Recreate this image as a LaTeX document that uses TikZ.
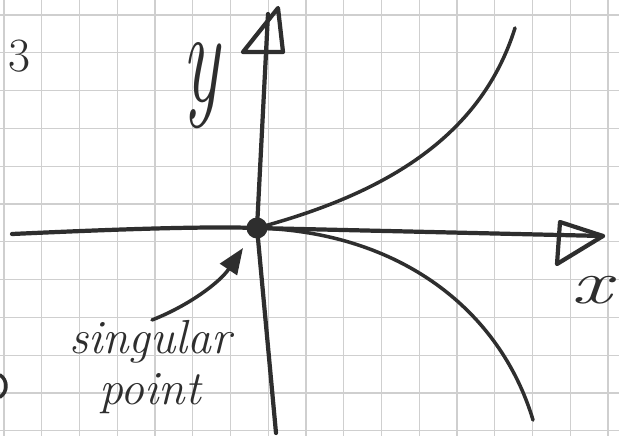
\documentclass[tikz,border=0pt]{standalone}
\usetikzlibrary{arrows.meta}
\definecolor{ink}{HTML}{2E2E2E}
\definecolor{gridc}{HTML}{CFCFCF}
\tikzset{
  gridline/.style={gridc, line width=1.5pt},
  pen/.style={ink, line width=6pt, line cap=round, line join=round},
  thinpen/.style={ink, line width=5pt, line cap=round, line join=round},
  hand/.style={ink},
}
\begin{document}
\begin{tikzpicture}[x=0.05cm, y=-0.05cm]
\useasboundingbox[fill=white] (0,0) rectangle (619,436);
% grid paper
\foreach \k in {0,...,16} {\draw[gridline] ({4+37.75*\k},0) -- ({4+37.75*\k},436);}
\foreach \k in {0,...,11} {\draw[gridline] (0,{15+37.8*\k}) -- (619,{15+37.8*\k});}
% origin (singular point)
\node[circle, fill=ink, inner sep=0pt, minimum size=1.05cm] (O) at (257,228) {};
% axes end points
\coordinate (xl) at (12,234);
\coordinate (xr) at (603,236);
\coordinate (xa) at (560,222);
\coordinate (xb) at (557,264);
\coordinate (yb) at (276,433);
\coordinate (yt) at (278,8);
\coordinate (ya) at (243,52);
\coordinate (yc) at (283,52);
\coordinate (ytop) at (268,14);
% x axis
\draw[pen] (xl) .. controls (100,230) and (200,226) .. (O.center) -- (xr);
\draw[pen] (xr) -- (xa) -- (xb) -- cycle;
% y axis
\draw[pen] (yb) -- (O.center) -- (ytop);
\draw[pen] (ya) -- (yc) -- (yt) -- (ya);
% cusp branches
\coordinate (ue) at (515,28);
\coordinate (le) at (533,420);
\draw[thinpen] (O.center) .. controls (380,195) and (480,140) .. (ue);
\draw[thinpen] (O.center) .. controls (400,232) and (500,310) .. (le);
% labels
\node[hand, inner sep=0pt, xscale=0.65, yscale=1.12, transform shape, font=\itshape\fontsize{170}{170}\selectfont] (ylab) at (201,86) {y};
\node[hand, inner sep=0pt, font=\itshape\fontsize{110}{110}\selectfont] (xlab) at (591,290) {\scalebox{1.15}[0.8]{x}};
\node[hand, inner sep=0pt, font=\fontsize{68}{68}\selectfont] (three) at (19,56) {3};
\node[hand, font=\itshape\fontsize{68}{72}\selectfont, align=center] (lbl) at (150,367) {singular\\point};
% pointer to singular point
\coordinate (ps) at (152,320);
\coordinate (pe) at (243,248);
\draw[thinpen, -{Triangle[length=1.3cm, width=1cm]}] (ps) .. controls (190,305) and (220,282) .. (pe);
% partial mark at the left edge
\draw[thinpen] (0,375) .. controls (8,380) and (8,392) .. (0,397);
\end{tikzpicture}
\end{document}
